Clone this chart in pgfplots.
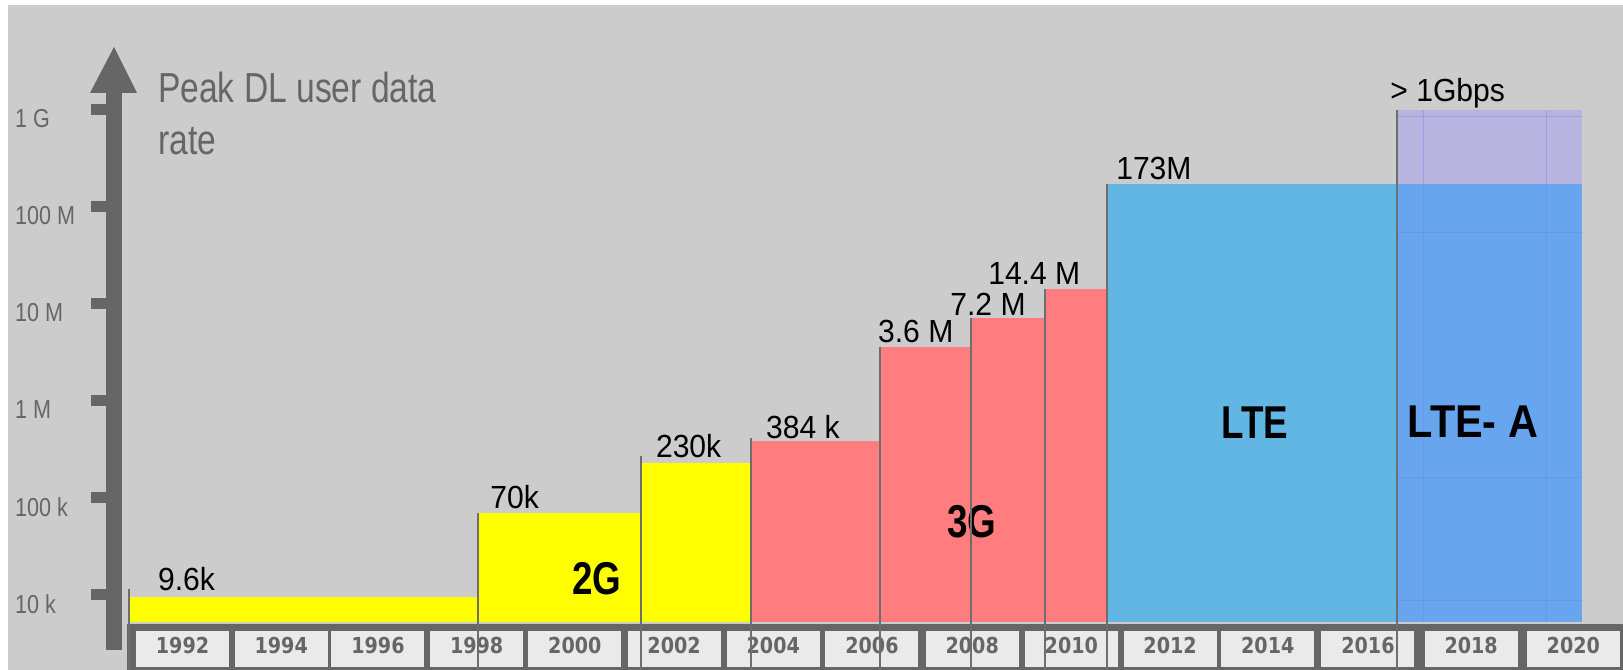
\documentclass[border=0pt]{standalone}
\usepackage{fontspec}
\setmainfont{Liberation Sans}
\newfontfamily\lblf{Liberation Sans}[FakeStretch=0.94]
\newfontfamily\peakf{Liberation Sans}[FakeStretch=0.8]
\newfontfamily\tickf{Liberation Sans}[FakeStretch=0.83]
\newfontfamily\boldf{Liberation Sans}[FakeStretch=0.8]
\newfontfamily\boldwf{Liberation Sans}[FakeStretch=0.9]
\newfontfamily\yearf{DejaVu Sans}[FakeStretch=0.87]
\usepackage{pgfplots}
\pgfplotsset{compat=1.18}
\definecolor{bggray}{HTML}{CCCCCC}
\definecolor{axisgray}{HTML}{666666}
\definecolor{boxfill}{HTML}{EAEAEA}
\definecolor{sepgray}{HTML}{6E6E6E}
\definecolor{yel}{HTML}{FFFF00}
\definecolor{pinkg}{HTML}{FF7C7F}
\definecolor{lteblue}{HTML}{62B6E3}
\definecolor{ltealow}{HTML}{67A5EF}
\definecolor{lteaup}{HTML}{B7B5DF}
\definecolor{gridblue}{HTML}{7A7AF5}
\newcommand{\yb}[1]{{\setlength{\fboxsep}{0pt}\colorbox{boxfill}{\makebox[93bp][c]{\rule[-13bp]{0pt}{35.5bp}\yearf\bfseries\fontsize{22bp}{24bp}\selectfont\color{axisgray}#1}}}}
\tikzset{lbl/.style={anchor=base west, inner sep=0pt, text=black, font=\lblf\fontsize{32bp}{38bp}\selectfont},
  gen/.style={inner sep=0pt, font=\boldf\bfseries\fontsize{46bp}{52bp}\selectfont}}
\begin{document}
\begin{tikzpicture}
\begin{axis}[
  set layers,
  at={(0,0)}, anchor=south west,
  width=1623bp, height=670bp, scale only axis,
  xmin=1988.33, xmax=2021.052,
  ymode=log, ymin=1686, ymax=1.3617e10,
  axis background/.style={fill=white},
  axis line style={draw=none},
  tick style={draw=none},
  major tick length=0pt, minor tick length=0pt,
  tick pos=left,
  xtick={1992.01,1994.00,1995.95,1997.94,1999.92,2001.92,2003.92,2005.91,2007.93,2009.93,2011.92,2013.89,2015.91,2017.99,2020.05},
  xticklabels={\yb{1992},\yb{1994},\yb{1996},\yb{1998},\yb{2000},\yb{2002},\yb{2004},\yb{2006},\yb{2008},\yb{2010},\yb{2012},\yb{2014},\yb{2016},\yb{2018},\yb{2020}},
  xticklabel style={anchor=south, inner sep=0pt, yshift=3bp},
  ytick={1e4,1e5,1e6,1e7,1e8,1e9},
  yticklabels={10 k,100 k,1 M,10 M,100 M,1 G},
  yticklabel style={anchor=west, inner sep=0pt, xshift=15bp, yshift=-9bp, text=axisgray, font=\tickf\fontsize{26bp}{30bp}\selectfont},
  yminorticks=false,
  no markers,
]
% background and bottom band
\addplot[fill=bggray, draw=none, on layer=axis background] coordinates {(1988.491,1686) (1988.491,1.209e10) (2021.052,1.209e10) (2021.052,1686)} --cycle;
\addplot[fill=axisgray, draw=none, on layer=axis background] coordinates {(1990.89,1686) (1990.89,5024) (2021.052,5024) (2021.052,1686)} --cycle;
% 2G
\addplot[fill=yel, draw=none] coordinates {(1990.93,5268) (1990.93,9600) (1997.97,9600) (1997.97,5268)} --cycle;
\addplot[fill=yel, draw=none] coordinates {(1997.97,5268) (1997.97,70000) (2001.25,70000) (2001.25,5268)} --cycle;
\addplot[fill=yel, draw=none] coordinates {(2001.25,5268) (2001.25,230000) (2003.47,230000) (2003.47,5268)} --cycle;
% 3G
\addplot[fill=pinkg, draw=none] coordinates {(2003.47,5268) (2003.47,384000) (2006.07,384000) (2006.07,5268)} --cycle;
\addplot[fill=pinkg, draw=none] coordinates {(2006.07,5268) (2006.07,3.6e6) (2007.91,3.6e6) (2007.91,5268)} --cycle;
\addplot[fill=pinkg, draw=none] coordinates {(2007.91,5268) (2007.91,7.2e6) (2009.40,7.2e6) (2009.40,5268)} --cycle;
\addplot[fill=pinkg, draw=none] coordinates {(2009.40,5268) (2009.40,1.44e7) (2010.65,1.44e7) (2010.65,5268)} --cycle;
% LTE
\addplot[fill=lteblue, draw=none] coordinates {(2010.65,5268) (2010.65,1.73e8) (2016.50,1.73e8) (2016.50,5268)} --cycle;
% LTE-A
\addplot[fill=ltealow, draw=none] coordinates {(2016.50,5268) (2016.50,1.73e8) (2020.23,1.73e8) (2020.23,5268)} --cycle;
\addplot[fill=lteaup, draw=none] coordinates {(2016.50,1.73e8) (2016.50,1e9) (2020.23,1e9) (2020.23,1.73e8)} --cycle;
% faint grid inside LTE-A
\addplot[gridblue, line width=1bp, opacity=0.4] coordinates {(2017.02,5268) (2017.02,1e9)};
\addplot[gridblue, line width=1bp, opacity=0.4] coordinates {(2019.50,5268) (2019.50,1e9)};
\addplot[gridblue, line width=1bp, opacity=0.4] coordinates {(2016.50,8.47e8) (2020.23,8.47e8)};
\addplot[gridblue, line width=1bp, opacity=0.4] coordinates {(2016.50,5.52e7) (2020.23,5.52e7)};
\addplot[gridblue, line width=1bp, opacity=0.4] coordinates {(2016.50,164600) (2020.23,164600)};
\addplot[gridblue, line width=1bp, opacity=0.4] coordinates {(2016.50,8880) (2020.23,8880)};
% separators
\addplot[sepgray, line width=2.5bp, on layer=axis foreground] coordinates {(1990.93,1686) (1990.93,11600)};
\addplot[sepgray, line width=2.5bp, on layer=axis foreground] coordinates {(1997.97,1686) (1997.97,70000)};
\addplot[sepgray, line width=2.5bp, on layer=axis foreground] coordinates {(2001.25,1686) (2001.25,271600)};
\addplot[sepgray, line width=2.5bp, on layer=axis foreground] coordinates {(2003.47,1686) (2003.47,412400)};
\addplot[sepgray, line width=2.5bp, on layer=axis foreground] coordinates {(2006.07,1686) (2006.07,3.6e6)};
\addplot[sepgray, line width=2.5bp, on layer=axis foreground] coordinates {(2007.91,1686) (2007.91,7.2e6)};
\addplot[sepgray, line width=2.5bp, on layer=axis foreground] coordinates {(2009.40,1686) (2009.40,1.44e7)};
\addplot[sepgray, line width=2.5bp, on layer=axis foreground] coordinates {(2010.65,1686) (2010.65,1.73e8)};
\addplot[sepgray, line width=2.5bp, on layer=axis foreground] coordinates {(2016.50,1686) (2016.50,1e9)};
% value labels
\node[lbl, xshift=29bp, yshift=6bp] at (axis cs:1990.93,9600) {9.6k};
\node[lbl, xshift=12bp, yshift=5bp] at (axis cs:1997.97,70000) {70k};
\node[lbl, xshift=15bp, yshift=5bp] at (axis cs:2001.25,230000) {230k};
\node[lbl, xshift=15bp, yshift=3bp] at (axis cs:2003.47,384000) {384 k};
\node[lbl, xshift=-2bp, yshift=5bp] at (axis cs:2006.07,3.6e6) {3.6 M};
\node[lbl, xshift=-21bp, yshift=2bp] at (axis cs:2007.91,7.2e6) {7.2 M};
\node[lbl, xshift=-57bp, yshift=4bp] at (axis cs:2009.40,1.44e7) {14.4 M};
\node[lbl, xshift=9bp, yshift=4bp] at (axis cs:2010.65,1.73e8) {173M};
\node[lbl, xshift=-7bp, yshift=8bp] at (axis cs:2016.50,1e9) {> 1Gbps};
\end{axis}
\begin{scope}[shift={(0,670bp)}, x=1bp, y=-1bp]
  % y axis arrow
  \fill[axisgray] (106,650) rectangle (122,92);
  \fill[axisgray] (90,93) -- (137,93) -- (114,47) -- cycle;
  \foreach \t in {595,498,401,304,207,110}{
    \fill[axisgray] (91,\t-5.5) rectangle (106,\t+5.5);
  }
  \node[anchor=base west, inner sep=0pt, text=axisgray, font=\peakf\fontsize{42bp}{52bp}\selectfont] at (158,103) {Peak DL user data};
  \node[anchor=base west, inner sep=0pt, text=axisgray, font=\peakf\fontsize{42bp}{52bp}\selectfont] at (158,155) {rate};
  % generation labels
  \node[gen, anchor=base] at (597,595) {2G};
  \node[gen, anchor=base] at (972,538) {3G};
  \node[gen, anchor=base] at (1255,439) {LTE};
  \node[inner sep=0pt, anchor=base, font=\boldwf\bfseries\fontsize{46bp}{52bp}\selectfont] at (1473,438) {LTE- A};
\end{scope}
\pgfresetboundingbox
\path (0,0) rectangle (1623bp,670bp);
\end{tikzpicture}
\end{document}
